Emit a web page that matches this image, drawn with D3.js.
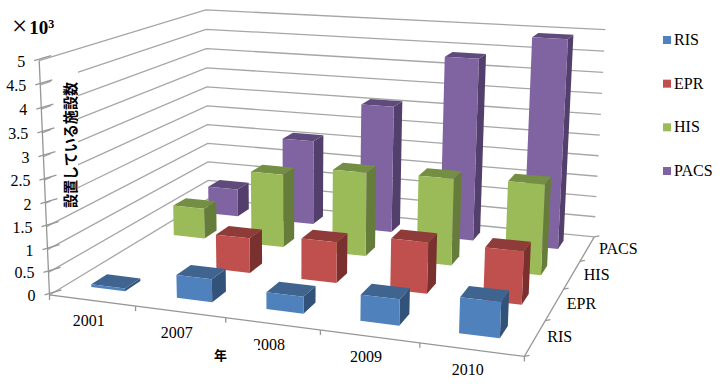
<!DOCTYPE html>
<html>
<head>
<meta charset="utf-8">
<script src="https://cdn.jsdelivr.net/npm/d3@7"></script>
<style>
  html, body { margin: 0; padding: 0; background: #fff; }
  svg { display: block; }
</style>
</head>
<body>
<svg id="chart"></svg>
<script>
var years = ["2001", "2007", "2008", "2009", "2010"];
var seriesNames = ["RIS", "EPR", "HIS", "PACS"];
var ris = [0.06, 0.5, 0.36, 0.55, 0.74];
var epr = [0, 0.8, 0.92, 1.13, 1.15];
var his = [0.74, 1.75, 1.97, 2.01, 2.06];
var pacs = [0.7, 2.1, 3.1, 4.37, 4.93];
var yTicks = [0, 0.5, 1, 1.5, 2, 2.5, 3, 3.5, 4, 4.5, 5];
var values = [ris, epr, his, pacs];

var faceColors = {
  RIS:  { front: "#4f81bd", top: "#3e648f", side: "#33527a" },
  EPR:  { front: "#c0504d", top: "#8f3b39", side: "#7a302e" },
  HIS:  { front: "#9bbb59", top: "#748f43", side: "#667c3a" },
  PACS: { front: "#8064a2", top: "#5f4a7c", side: "#523f6b" }
};

var width = 723, height = 392;
var svg = d3.select("#chart").attr("width", width).attr("height", height);
var serif = "'Liberation Serif', serif";
var cjk = "'Noto Sans CJK JP', sans-serif";

// camera fitted to the corners of the plot box: [x, depth, value] -> pixel
var corners = [
  [0, 0, 0, 51, 295], [1, 0, 0, 524, 357], [1, 1, 0, 595, 236], [0, 1, 0, 207, 199],
  [0, 0, 1, 38, 60], [0, 1, 1, 207, 10], [1, 1, 1, 605, 30]
];

function solveCamera(pts) {
  var rows = [], rhs = [];
  pts.forEach(function (p) {
    var X = p[0], Z = p[1], Y = p[2], u = p[3], v = p[4];
    rows.push([X, Z, Y, 1, 0, 0, 0, 0, -u * X, -u * Z, -u * Y]); rhs.push(u);
    rows.push([0, 0, 0, 0, X, Z, Y, 1, -v * X, -v * Z, -v * Y]); rhs.push(v);
  });
  // normal equations, then gaussian elimination
  var n = 11, A = [];
  for (var i = 0; i < n; i++) {
    A.push([]);
    for (var j = 0; j <= n; j++) {
      var s = 0;
      rows.forEach(function (r, k) { s += r[i] * (j < n ? r[j] : rhs[k]); });
      A[i].push(s);
    }
  }
  for (var c = 0; c < n; c++) {
    var piv = c;
    for (var r = c + 1; r < n; r++) if (Math.abs(A[r][c]) > Math.abs(A[piv][c])) piv = r;
    var t = A[c]; A[c] = A[piv]; A[piv] = t;
    for (var r2 = 0; r2 < n; r2++) {
      if (r2 === c) continue;
      var f = A[r2][c] / A[c][c];
      for (var q = c; q <= n; q++) A[r2][q] -= f * A[c][q];
    }
  }
  return A.map(function (row, i) { return row[n] / row[i]; });
}
var cam = solveCamera(corners);

function project(X, Z, Y) {
  var w = cam[8] * X + cam[9] * Z + cam[10] * Y + 1;
  return [
    (cam[0] * X + cam[1] * Z + cam[2] * Y + cam[3]) / w,
    (cam[4] * X + cam[5] * Z + cam[6] * Y + cam[7]) / w
  ];
}

var x = d3.scaleBand().domain(years).range([-0.003, 0.997]).paddingInner(0.6).paddingOuter(0.3);
var z = d3.scaleBand().domain(seriesNames).range([0.012, 1.012]).paddingInner(0.65).paddingOuter(0.325);
var y = d3.scaleLinear().domain([0, 5]).range([0, 1]);
var line = d3.line();
var poly = function (pts) { return line(pts) + "Z"; };

// walls
var grid = svg.append("g").attr("fill", "none").attr("stroke", "#a6a6a6").attr("stroke-width", 1.3);
yTicks.forEach(function (v) {
  grid.append("path").attr("d", line([project(0, 0, y(v)), project(0, 1, y(v)), project(1, 1, y(v))]));
});

// white box behind the axis title, it cuts the wall lines
svg.append("rect").attr("x", 51).attr("y", 70).attr("width", 27).attr("height", 138).attr("fill", "#fff");

// axes
var axes = svg.append("g").attr("fill", "none").attr("stroke", "#969696").attr("stroke-width", 1.3);
axes.append("path").attr("d", line([project(0, 0, 1), project(0, 0, 0), project(1, 0, 0), project(1, 1, 0)]));
yTicks.forEach(function (v) {
  var p = project(0, 0, y(v));
  axes.append("path").attr("d", line([[p[0] - 5, p[1]], [p[0] + 12, p[1] - 5]]));
});
d3.range(0, years.length + 1).forEach(function (i) {
  var p = project(i / years.length, 0, 0);
  axes.append("path").attr("d", line([p, [p[0], p[1] + 5]]));
});
d3.range(0, seriesNames.length + 1).forEach(function (i) {
  var p = project(1, i / seriesNames.length, 0);
  axes.append("path").attr("d", line([p, [p[0] + 5, p[1] - 1]]));
});

// bars, back row first
var bars = svg.append("g");
d3.range(seriesNames.length - 1, -1, -1).forEach(function (k) {
  var name = seriesNames[k], col = faceColors[name];
  years.forEach(function (yr, i) {
    var v = values[k][i];
    if (!v) return;
    var x0 = x(yr), x1 = x0 + x.bandwidth();
    var z0 = z(name), z1 = z0 + z.bandwidth();
    var h = y(v);
    bars.append("path").attr("fill", col.side)
      .attr("d", poly([project(x1, z0, 0), project(x1, z1, 0), project(x1, z1, h), project(x1, z0, h)]));
    bars.append("path").attr("fill", col.top)
      .attr("d", poly([project(x0, z0, h), project(x1, z0, h), project(x1, z1, h), project(x0, z1, h)]));
    bars.append("path").attr("fill", col.front)
      .attr("d", poly([project(x0, z0, 0), project(x1, z0, 0), project(x1, z0, h), project(x0, z0, h)]));
  });
});

// tick labels
var labels = svg.append("g").attr("font-family", serif).attr("font-size", 16).attr("fill", "#000");
yTicks.forEach(function (v) {
  var p = project(0, 0, y(v));
  labels.append("text").attr("x", p[0] - 14).attr("y", p[1] + 6).attr("text-anchor", "end").text(v);
});
years.forEach(function (yr) {
  var p = project(x(yr) + x.bandwidth() / 2, 0, 0);
  labels.append("text").attr("x", p[0] - 2).attr("y", p[1] + 26).attr("text-anchor", "middle").text(yr);
});
seriesNames.forEach(function (name) {
  var p = project(1, z(name) + z.bandwidth() / 2, 0);
  labels.append("text").attr("x", p[0] + 11).attr("y", p[1] + 6).text(name);
});

// titles
var mult = svg.append("text").attr("x", 12).attr("y", 35).attr("font-family", serif).attr("font-size", 19)
  .attr("font-weight", "bold");
mult.append("tspan").attr("font-weight", "normal").attr("font-size", 27).text("×");
mult.append("tspan").attr("dx", 2).attr("dy", -1).text("10");
mult.append("tspan").attr("font-size", 12).attr("dy", -6).text("3");
svg.append("text").attr("transform", "translate(76,208) rotate(-90)")
  .attr("font-family", cjk).attr("font-size", 15).attr("font-weight", "bold")
  .attr("textLength", 126).attr("lengthAdjust", "spacingAndGlyphs").text("設置している施設数");
svg.append("rect").attr("x", 212).attr("y", 344).attr("width", 46).attr("height", 20).attr("fill", "#fff");
svg.append("text").attr("x", 214).attr("y", 360).attr("font-family", cjk).attr("font-size", 13)
  .attr("font-weight", "bold").text("年");

// legend
var legendY = d3.scalePoint().domain(seriesNames).range([40, 171]);
var legend = svg.append("g");
seriesNames.forEach(function (name) {
  legend.append("rect").attr("x", 663).attr("y", legendY(name) - 4).attr("width", 8).attr("height", 8)
    .attr("fill", faceColors[name].front);
  legend.append("text").attr("x", 674).attr("y", legendY(name) + 5).attr("font-family", serif)
    .attr("font-size", 16).text(name);
});
</script>
</body>
</html>
